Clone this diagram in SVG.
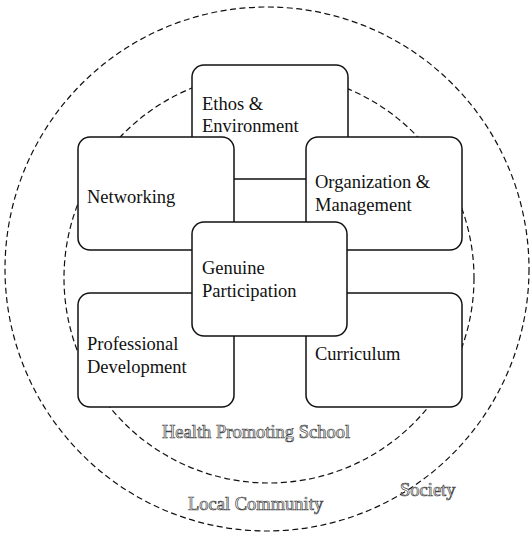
<svg xmlns="http://www.w3.org/2000/svg" width="531" height="536" viewBox="0 0 531 536">
<style>
.ring{fill:none;stroke:#111;stroke-width:1.2;stroke-dasharray:6 3.5}
.box{fill:#fff;stroke:#111;stroke-width:1.5}
.t{font-family:"Liberation Serif",serif;font-size:18.5px;fill:#111}
.o{font-family:"Liberation Serif",serif;font-size:18.5px;fill:#fff;stroke:#444;stroke-width:0.7}
</style>
<rect width="531" height="536" fill="#fff"/>
<g id="rings">
<circle id="society" class="ring" cx="267" cy="269" r="262"/>
<circle id="community" class="ring" cx="269" cy="278" r="205"/>
</g>
<g id="connectors"></g>
<g id="ethos">
<rect class="box" x="192" y="65" width="156" height="114" rx="12"/>
<text class="t" x="202" y="110">Ethos &amp;</text>
<text class="t" x="202" y="132">Environment</text>
</g>
<g id="networking">
<rect class="box" x="78" y="137" width="156" height="113" rx="12"/>
<text class="t" x="87" y="203">Networking</text>
</g>
<g id="organization">
<rect class="box" x="306" y="137" width="156" height="113" rx="12"/>
<text class="t" x="315" y="188">Organization &amp;</text>
<text class="t" x="315" y="211">Management</text>
</g>
<g id="professional">
<rect class="box" x="78" y="293" width="156" height="114" rx="12"/>
<text class="t" x="87" y="350">Professional</text>
<text class="t" x="87" y="373">Development</text>
</g>
<g id="curriculum">
<rect class="box" x="306" y="293" width="156" height="114" rx="12"/>
<text class="t" x="315" y="360">Curriculum</text>
</g>
<g id="genuine">
<rect class="box" x="192" y="222" width="155" height="114" rx="12"/>
<text class="t" x="202" y="274">Genuine</text>
<text class="t" x="202" y="297">Participation</text>
</g>
<g id="labels">
<text class="o" x="162" y="438">Health Promoting School</text>
<text class="o" x="188" y="510">Local Community</text>
<text class="o" x="400" y="496">Society</text>
</g>
</svg>
